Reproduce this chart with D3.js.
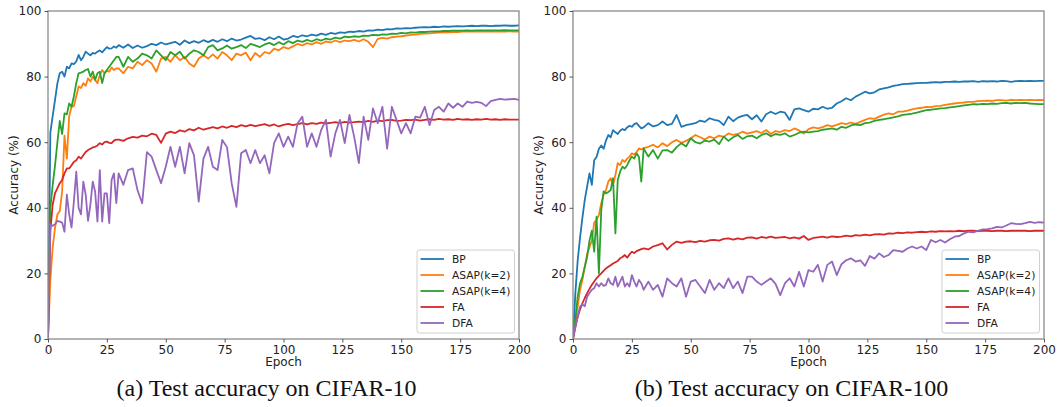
<!DOCTYPE html>
<html>
<head>
<meta charset="utf-8">
<script src="https://cdn.jsdelivr.net/npm/d3@7"></script>
<style>
  body { margin: 0; background: #fff; }
  svg { display: block; }
</style>
</head>
<body>
<div id="chart"></div>
<script>
// epochs: every epoch up to 29, then every 2nd epoch
const epochs = d3.range(0, 30).concat(d3.range(30, 201, 2));

const methods = ["BP", "ASAP(k=2)", "ASAP(k=4)", "FA", "DFA"];
const colors = ["#1f77b4", "#ff7f0e", "#2ca02c", "#d62728", "#9467bd"];
const xTicks = [0, 25, 50, 75, 100, 125, 150, 175, 200];
const yTicks = [0, 20, 40, 60, 80, 100];

// ---- CIFAR-10 ----
const c10BP = [
  0, 63, 68, 73, 78, 81, 81.5, 80, 83, 82.5, 84, 83.8, 84.6, 86.6, 85, 86, 87.6, 87, 86.5, 87.2, 87, 87.6, 88, 87.4, 88.2, 89, 88.5, 88.6, 89.2, 88.8,
  89.6, 88.8, 89.8, 88.7, 89.5, 88.8, 89.3, 90, 89.6, 90.4,
  89.8, 90.2, 90.6, 89.7, 91, 90.2, 90.8, 90.3, 91.1, 90.5,
  91.2, 90.6, 91.4, 90.8, 91.6, 91, 91.3, 91.9, 92.4, 91.5,
  91.7, 91.1, 92, 91.4, 92.2, 91.3, 91.6, 92.4, 92, 92.6,
  92.3, 92.8, 92.5, 93.1, 92.7, 93.3, 93, 93.5, 93.3, 93.7,
  93.6, 93.9, 93.7, 94.1, 94, 94.3, 94.2, 94.5, 94.4, 94.7,
  94.6, 94.8, 94.7, 94.9, 95, 95.1, 95, 95.2, 95.1, 95.3,
  95.2, 95.3, 95.4, 95.3, 95.4, 95.5, 95.4, 95.5, 95.5, 95.4,
  95.5, 95.5, 95.6, 95.5, 95.5, 95.6
];
const c10ASAP2 = [
  0, 18, 28, 34, 38, 39, 45, 62, 55, 68, 70.8, 71, 74, 77, 76.5, 78, 77.2, 79.5, 78.5, 80, 79, 78, 80.5, 82, 81, 81.8, 81.5, 82.8, 82, 82.5,
  82.5, 81, 83, 82.5, 84.5, 83.5, 85, 84, 81.5, 85.5,
  86, 84.5, 86.5, 85, 86, 84, 83, 85.5, 86.5, 85.5,
  86.8, 85.5, 87.5, 86.5, 85, 87, 86.5, 87.3, 85, 87.2,
  86, 87.5, 87, 88.5, 88, 89, 88.5, 89.2, 90, 89.5,
  90.2, 89.8, 90.5, 90, 90.7, 90.4, 91, 90.5, 91, 90.8,
  91.2, 90.7, 91.4, 90.6, 89, 91.5, 91.8, 91.6, 92, 92.2,
  92.3, 92.5, 92.7, 92.8, 93, 93.1, 93.2, 93.3, 93.4, 93.5,
  93.5, 93.6, 93.6, 93.7, 93.7, 93.7, 93.7, 93.8, 93.7, 93.7,
  93.7, 93.8, 93.7, 93.8, 93.7, 93.7
];
const c10ASAP4 = [
  0, 40, 47, 53, 60, 66.5, 62.5, 68.8, 68.5, 71.8, 70.8, 74, 78, 81, 81.2, 81.5, 82, 82.3, 80, 81.5, 79, 81, 81.5, 78, 81, 82, 83, 84, 85, 86,
  86, 83, 86, 84.5, 85.5, 87, 86.5, 85.5, 88, 86.5,
  85, 87.5, 86.5, 87.6, 85.5, 87, 88, 87.5, 86.5, 89,
  89.6, 88, 88.6, 89.5, 88.5, 89, 89.6, 88.7, 90, 89.5,
  89, 89.8, 90.3, 89.6, 90.5, 89.8, 90.8, 90.2, 91, 90.6,
  91.2, 90.7, 91.4, 91, 91.6, 91.3, 91.9, 91.6, 92.2, 92,
  92.3, 92.1, 92.5, 92.4, 92.7, 92.6, 92.9, 92.8, 93.1, 93,
  93.3, 93.2, 93.5, 93.4, 93.6, 93.6, 93.7, 93.8, 93.8, 93.9,
  93.9, 94, 94, 94, 94.1, 94, 94.1, 94.1, 94.1, 94.1,
  94.1, 94.1, 94.2, 94.1, 94.1, 94.1
];
const c10FA = [
  0, 33, 41, 44.5, 46, 47.5, 48.5, 50.5, 52, 52, 53, 54, 54.5, 55.6, 55, 56, 57, 57.6, 58, 58.4, 58.6, 59, 59.7, 59.3, 60, 60.2, 59.8, 59.7, 60.5, 60.8,
  60.8, 60.4, 61.2, 61.6, 61.4, 62, 61.8, 62.6, 62.2, 59.8,
  62.6, 63.2, 62.8, 63.6, 63.2, 64, 63.6, 64.4, 63.8, 64.2,
  64.6, 64.2, 64.8, 64.4, 65, 64.6, 65.2, 64.8, 65.3, 64.9,
  65.2, 65.5, 65, 65.4, 64.8, 65.3, 65.6, 65.2, 65.5, 65.8,
  65.4, 65.8, 65.6, 66, 65.7, 65.9, 66.1, 65.8, 66.2, 66,
  66.1, 66.3, 66.1, 66.5, 66.2, 66.6, 66.4, 66.7, 66.8, 66.5,
  66.6, 66.8, 66.7, 66.9, 66.6, 66.8, 67, 66.8, 67.1, 66.9,
  67, 66.8, 67.1, 66.9, 67, 66.8, 67, 66.9, 67.1, 66.9,
  67, 66.8, 67, 66.9, 66.9, 66.9
];
const c10DFA = [
  0, 35, 34.5, 35, 36, 35.8, 35.5, 32.7, 44, 38, 34, 42, 51, 40, 38, 48, 44, 36, 41, 48, 45, 35.8, 51.5, 35.8, 44.4, 44.4, 35.3, 48.5, 50.5, 41.4,
  50.5, 47, 51.5, 52, 45.4, 41.4, 57, 55.6, 51.5, 47.5,
  52.5, 58.6, 52.5, 58.6, 50.5, 59.7, 56, 41.9, 55, 58.6,
  52.5, 51.5, 60.7, 58.5, 47.5, 40.3, 56.6, 57.6, 53.6, 57.6,
  53.6, 56, 50.5, 59.7, 62.7, 58.6, 61.7, 58.6, 65.8, 67.8,
  58.6, 62.7, 58.6, 63.7, 66.8, 55.6, 62.7, 66.8, 59.7, 68.3,
  61.7, 53.6, 67.8, 60.7, 70.3, 65.8, 70.8, 58, 70.8, 66.8,
  62.7, 65.8, 62.7, 67.8, 67.5, 70.8, 65.2, 69.8, 70.8, 69.3,
  71.8, 70.5, 71.8, 70.8, 72.4, 72, 72.3, 72, 71, 72.5,
  72.9, 73.2, 73, 73.1, 73.2, 72.9
];

// ---- CIFAR-100 ----
const c100BP = [
  0, 14, 24, 31, 37, 42.4, 46.5, 50.5, 47, 54.5, 55.5, 58, 59, 58, 60.5, 62.2, 61.5, 63.7, 63, 62.5, 63.5, 64, 63.7, 64.5, 65, 64.7, 65.5, 65.8, 65, 64.2,
  64.5, 65.8, 64.8, 65.2, 66.3, 65.2, 65.6, 68.3, 64.7, 65.2,
  65.5, 65.8, 66.6, 66.2, 67.3, 66.8, 66.5, 65.2, 67.8, 66.4,
  67.5, 68, 68.3, 67, 68.2, 66.3, 68.5, 69.3, 68.6, 69.3,
  69, 66.8, 70, 70.3, 69.8, 69.3, 70.2, 70, 70.8, 70.2,
  70.5, 71.8, 72.5, 73.4, 72.8, 73.9, 74.6, 75.4, 74.9, 75.2,
  76.1, 76.4, 76.7, 77.2, 77.4, 77.7, 77.8, 77.9, 78, 78.1,
  78.1, 78.2, 78.3, 78.2, 78.4, 78.4, 78.5, 78.4, 78.5, 78.5,
  78.6, 78.4, 78.6, 78.5, 78.6, 78.5, 78.7, 78.6, 78.4, 78.6,
  78.7, 78.6, 78.7, 78.6, 78.7, 78.7
];
const c100ASAP2 = [
  0, 5, 10, 15, 18, 22, 26, 28, 30, 35.5, 36.3, 37.8, 41.4, 44, 45.4, 48, 49, 47, 50, 53.6, 53, 54.6, 54, 55, 55.6, 56.6, 56.2, 57, 58.1, 57.8,
  58.2, 58.6, 59.2, 58.4, 59.7, 58.8, 60, 60.7, 59.8, 60.4,
  61.2, 62.2, 61.5, 60.8, 61.7, 61.2, 62, 61.6, 62.7, 62.2,
  62.5, 63.2, 62.6, 63, 63.4, 62.8, 63.7, 62.5, 63.4, 63.1,
  63.7, 63.4, 64.2, 63.6, 62.6, 64, 64.5, 64.2, 64.6, 65.2,
  64.8, 65.3, 65.8, 65.5, 66, 65.6, 66.2, 66.8, 67.3, 67.1,
  67.8, 68.4, 68.8, 68.5, 69.3, 69.3, 69.6, 70, 70.3, 70.5,
  70.8, 70.7, 71, 71.1, 71.4, 71.6, 71.8, 72, 72.1, 72.3,
  72.3, 72.5, 72.6, 72.7, 72.6, 72.8, 72.8, 72.7, 72.9, 72.8,
  72.9, 72.8, 72.9, 72.8, 72.9, 72.8
];
const c100ASAP4 = [
  0, 6, 13, 17, 19, 22, 25, 30, 33, 26.6, 37.3, 20, 39.3, 45, 44.4, 44.8, 45.4, 49, 32.2, 48.5, 51, 52.5, 52, 53, 54.5, 55.6, 55, 56.6, 55.5, 48,
  58.1, 55.6, 57.6, 55, 57.5, 57.6, 56.8, 58.5, 59.7, 58.7,
  61.2, 60, 59.6, 60.5, 60.2, 60.8, 59.4, 61.7, 60.4, 61.5,
  62.2, 61, 61.8, 62, 61.2, 62.2, 62.7, 61.8, 62.5, 62.2,
  62.7, 61.7, 62.2, 62.9, 63.2, 63, 63.2, 63.4, 63.8, 64,
  64.2, 63.8, 64.7, 64.4, 65.1, 65.4, 65.2, 65.8, 66, 66.5,
  66.8, 67, 67.3, 67.6, 67.9, 68.3, 68.5, 68.7, 69, 69.4,
  69.8, 69.9, 70.1, 70.3, 70.4, 70.6, 70.8, 71, 71.2, 71.4,
  71.6, 71.5, 71.7, 71.6, 71.8, 71.7, 71.9, 72, 71.8, 72,
  71.9, 72, 71.8, 71.7, 71.6, 71.6
];
const c100FA = [
  0, 3.5, 6.8, 9, 10.9, 12.5, 14, 15.3, 16.5, 17.5, 18.5, 19.3, 20, 20.8, 21.5, 22, 22.5, 23, 23.4, 23.8, 24.6, 25, 25.6, 24.8, 25.8, 26.6, 26.2, 26.8, 27.1, 27.4,
  27.6, 27.3, 28.2, 28.6, 29.2, 27.3, 28.7, 29.7, 29.3, 29.7,
  29.8, 29.5, 29.9, 29.7, 30.1, 30.2, 30, 30.5, 30.7, 30.3,
  30.7, 30.4, 30.9, 31, 30.6, 31.1, 30.8, 31.2, 30.8, 31,
  31.1, 30.7, 31, 30.6, 31.4, 30.2, 30.8, 31, 31.2, 30.9,
  31.3, 31.1, 31.2, 31.5, 31.3, 31.7, 31.5, 31.8, 31.6, 31.9,
  32, 31.8, 32.2, 32.1, 32.4, 32.3, 32.5, 32.4, 32.6, 32.7,
  32.6, 32.8, 32.7, 32.9, 32.8, 32.9, 32.8, 33, 32.9, 33,
  33, 32.9, 33, 33, 32.9, 33, 33, 32.9, 33, 33,
  33, 33, 32.9, 33, 33, 33
];
const c100DFA = [
  0, 4, 6.8, 9.9, 10.5, 10, 12.9, 14, 15, 15.5, 17, 16, 17, 16.2, 16.5, 18.5, 17, 16.5, 19, 16, 17.5, 19, 16, 17, 16, 19.5, 17.5, 16, 18, 17,
  15, 17.5, 15, 16.5, 12.9, 18.5, 17, 16, 18.5, 12.9,
  17.5, 18, 16, 14, 18, 15, 17, 15.5, 18.5, 15.5,
  17.5, 14, 19, 19, 17.5, 16.5, 17.5, 18.5, 16.8, 13.4,
  17, 18.5, 16, 20.5, 16, 21, 20.5, 22.6, 17.5, 22.6,
  23.6, 19.5, 22.8, 24, 24.6, 23.6, 24, 22.3, 25.3, 24.5,
  26.1, 25, 25.6, 27.1, 26.9, 26.6, 27.6, 28.2, 27.6, 28.2,
  27.1, 30.2, 29.5, 30.2, 29.4, 30.4, 31.2, 31.4, 32.2, 32.7,
  32.5, 33, 33.4, 33.5, 33.7, 34.2, 34, 34.6, 35.3, 35.1,
  35, 35.3, 35.7, 35.4, 35.6, 35.5
];

const W = 1058, H = 407;
const svg = d3.select("#chart").append("svg")
  .attr("width", W)
  .attr("height", H)
  .style("font-family", "'DejaVu Sans', sans-serif");

function drawPanel(cfg) {
  var x = d3.scaleLinear().domain([0, 200]).range([cfg.left, cfg.right]);
  var y = d3.scaleLinear().domain([0, 100]).range([339, 11]);

  var g = svg.append("g");

  g.append("clipPath").attr("id", cfg.id + "clip")
    .append("rect")
    .attr("x", cfg.left).attr("y", 11)
    .attr("width", cfg.right - cfg.left).attr("height", 328);

  var line = d3.line()
    .x(function(d, i) { return x(epochs[i]); })
    .y(function(d) { return y(d); });

  g.append("g").attr("clip-path", "url(#" + cfg.id + "clip)")
    .selectAll("path")
    .data(cfg.series)
    .enter()
    .append("path")
    .attr("d", function(d) { return line(d); })
    .attr("fill", "none")
    .attr("stroke", function(d, i) { return colors[i]; })
    .attr("stroke-width", 1.8)
    .attr("stroke-linejoin", "round");

  // spines
  g.append("rect")
    .attr("x", cfg.left).attr("y", 11)
    .attr("width", cfg.right - cfg.left).attr("height", 328)
    .attr("fill", "none")
    .attr("stroke", "#8a8a8a")
    .attr("stroke-width", 1.3);

  var xAxis = g.append("g")
    .attr("transform", "translate(0,339)")
    .call(d3.axisBottom(x).tickValues(xTicks).tickSize(3.5).tickPadding(2.5).tickFormat(d3.format("d")));
  var yAxis = g.append("g")
    .attr("transform", "translate(" + cfg.left + ",0)")
    .call(d3.axisLeft(y).tickValues(yTicks).tickSize(3.5).tickPadding(3).tickFormat(d3.format("d")));

  [xAxis, yAxis].forEach(function(a) {
    a.select(".domain").remove();
    a.selectAll("line").attr("stroke", "#444").attr("stroke-width", 0.9);
    a.selectAll("text")
      .attr("fill", "#222")
      .style("font-size", "12px")
      .style("font-family", "'DejaVu Sans', sans-serif");
  });

  g.append("text")
    .attr("x", (cfg.left + cfg.right) / 2)
    .attr("y", 366)
    .attr("text-anchor", "middle")
    .attr("fill", "#222")
    .style("font-size", "12px")
    .text("Epoch");

  g.append("text")
    .attr("transform", "translate(" + (cfg.left - 30.5) + ",175) rotate(-90)")
    .attr("text-anchor", "middle")
    .attr("fill", "#222")
    .style("font-size", "12px")
    .text("Accuracy (%)");

  // legend
  var lx = cfg.right - 102, ly = 250;
  var leg = g.append("g");
  leg.append("rect")
    .attr("x", lx).attr("y", ly)
    .attr("width", 97.5).attr("height", 83)
    .attr("rx", 2.5)
    .attr("fill", "#fff")
    .attr("fill-opacity", 0.85)
    .attr("stroke", "#d0d0d0")
    .attr("stroke-width", 1);

  var item = leg.selectAll(".item")
    .data(methods)
    .enter()
    .append("g")
    .attr("class", "item")
    .attr("transform", function(d, i) { return "translate(" + lx + "," + (ly + 9 + i * 16) + ")"; });

  item.append("line")
    .attr("x1", 3.5).attr("x2", 27)
    .attr("stroke", function(d, i) { return colors[i]; })
    .attr("stroke-width", 1.8);

  item.append("text")
    .attr("x", 35)
    .attr("dy", "0.36em")
    .attr("fill", "#222")
    .style("font-size", "10.7px")
    .text(function(d) { return d; });

  svg.append("text")
    .attr("x", (cfg.left + cfg.right) / 2 - 17)
    .attr("y", 396)
    .attr("text-anchor", "middle")
    .attr("fill", "#111")
    .style("font-family", "'Liberation Serif', 'Times New Roman', serif")
    .style("font-size", "24px")
    .text(cfg.caption);
}

drawPanel({
  id: "c10",
  left: 48, right: 519,
  series: [c10BP, c10ASAP2, c10ASAP4, c10FA, c10DFA],
  caption: "(a) Test accuracy on CIFAR-10"
});

drawPanel({
  id: "c100",
  left: 573, right: 1044,
  series: [c100BP, c100ASAP2, c100ASAP4, c100FA, c100DFA],
  caption: "(b) Test accuracy on CIFAR-100"
});
</script>
</body>
</html>
